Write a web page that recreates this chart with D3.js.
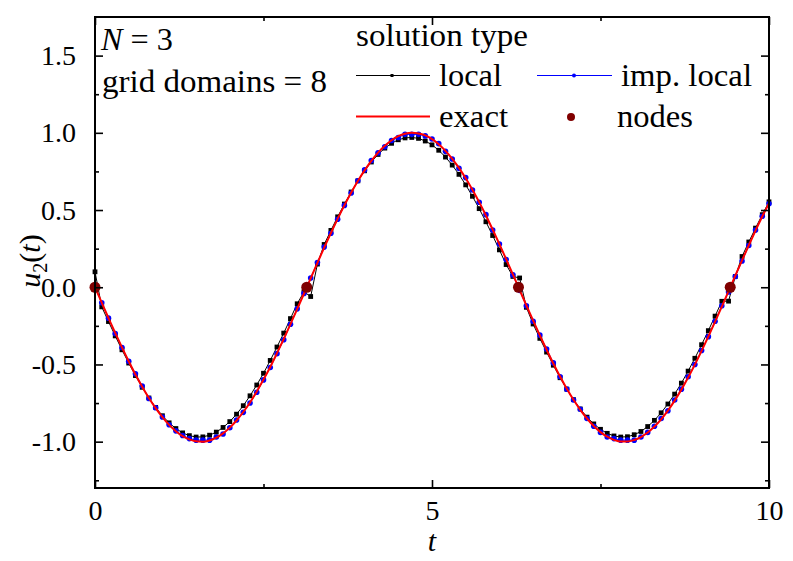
<!DOCTYPE html>
<html>
<head>
<meta charset="utf-8">
<script src="https://cdn.jsdelivr.net/npm/d3@7"></script>
<style>
  @font-face { font-family: "ChartSerif"; font-style: normal; src: local("Liberation Serif"), local("LiberationSerif"), local("LiberationSerif-Regular"); }
  @font-face { font-family: "ChartSerif"; font-style: italic; src: local("Liberation Serif Italic"), local("LiberationSerif-Italic"); }
  html, body { margin: 0; padding: 0; background: #fff; }
</style>
</head>
<body>
<svg id="chart" width="793" height="561"></svg>
<script>
// time grid
const tValues = [
  0.0, 0.1, 0.2, 0.3, 0.4, 0.5, 0.6, 0.7, 0.8, 0.9,
  1.0, 1.1, 1.2, 1.3, 1.4, 1.5, 1.6, 1.7, 1.8, 1.9,
  2.0, 2.1, 2.2, 2.3, 2.4, 2.5, 2.6, 2.7, 2.8, 2.9,
  3.0, 3.1, 3.2, 3.3, 3.4, 3.5, 3.6, 3.7, 3.8, 3.9,
  4.0, 4.1, 4.2, 4.3, 4.4, 4.5, 4.6, 4.7, 4.8, 4.9,
  5.0, 5.1, 5.2, 5.3, 5.4, 5.5, 5.6, 5.7, 5.8, 5.9,
  6.0, 6.1, 6.2, 6.3, 6.4, 6.5, 6.6, 6.7, 6.8, 6.9,
  7.0, 7.1, 7.2, 7.3, 7.4, 7.5, 7.6, 7.7, 7.8, 7.9,
  8.0, 8.1, 8.2, 8.3, 8.4, 8.5, 8.6, 8.7, 8.8, 8.9,
  9.0, 9.1, 9.2, 9.3, 9.4, 9.5, 9.6, 9.7, 9.8, 9.9,
  10.0
];

// "local" solution
const localU = [
  0.100, -0.127, -0.222, -0.315, -0.405, -0.491, -0.572, -0.648, -0.717, -0.778,
  -0.832, -0.878, -0.915, -0.943, -0.961, -0.970, -0.969, -0.958, -0.938, -0.908,
  -0.870, -0.822, -0.767, -0.703, -0.633, -0.557, -0.474, -0.387, -0.297, -0.203,
  -0.107, -0.030, -0.060, 0.150, 0.277, 0.368, 0.456, 0.539, 0.617, 0.689,
  0.754, 0.811, 0.860, 0.901, 0.932, 0.955, 0.967, 0.970, 0.964, 0.947,
  0.922, 0.887, 0.843, 0.791, 0.731, 0.663, 0.589, 0.509, 0.424, 0.335,
  0.242, 0.147, 0.070, 0.060, -0.130, -0.238, -0.331, -0.420, -0.505, -0.586,
  -0.660, -0.728, -0.788, -0.841, -0.885, -0.920, -0.946, -0.963, -0.970, -0.968,
  -0.955, -0.934, -0.902, -0.862, -0.813, -0.756, -0.692, -0.621, -0.543, -0.460,
  -0.372, -0.281, -0.187, -0.091, -0.090, 0.070, 0.199, 0.293, 0.383, 0.470,
  0.553
];

// "imp. local" solution
const impLocalU = [
  0, -0.10, -0.20, -0.30, -0.39, -0.48, -0.56, -0.64, -0.72, -0.78,
  -0.84, -0.89, -0.93, -0.96, -0.98, -0.99, -0.99, -0.99, -0.97, -0.95,
  -0.91, -0.86, -0.81, -0.75, -0.68, -0.60, -0.52, -0.43, -0.34, -0.24,
  -0.14, -0.04, 0.06, 0.16, 0.26, 0.35, 0.44, 0.53, 0.61, 0.69,
  0.76, 0.82, 0.87, 0.91, 0.95, 0.97, 0.99, 0.99, 0.99, 0.98,
  0.96, 0.93, 0.88, 0.83, 0.77, 0.71, 0.63, 0.55, 0.47, 0.37,
  0.28, 0.18, 0.08, -0.02, -0.12, -0.22, -0.31, -0.40, -0.49, -0.58,
  -0.66, -0.73, -0.79, -0.85, -0.90, -0.94, -0.97, -0.98, -0.99, -0.99,
  -0.99, -0.97, -0.94, -0.90, -0.85, -0.80, -0.73, -0.66, -0.58, -0.50,
  -0.41, -0.32, -0.22, -0.12, -0.03, 0.07, 0.17, 0.27, 0.37, 0.46,
  0.54
];

// exact solution
const exactU = [
  0, -0.100, -0.199, -0.296, -0.389, -0.479, -0.565, -0.644, -0.717, -0.783,
  -0.841, -0.891, -0.932, -0.964, -0.985, -0.997, -1.000, -0.992, -0.974, -0.946,
  -0.909, -0.863, -0.808, -0.746, -0.675, -0.598, -0.516, -0.427, -0.335, -0.239,
  -0.141, -0.042, 0.058, 0.158, 0.256, 0.351, 0.443, 0.530, 0.612, 0.688,
  0.757, 0.818, 0.872, 0.916, 0.952, 0.978, 0.994, 1.000, 0.996, 0.983,
  0.959, 0.926, 0.883, 0.832, 0.773, 0.706, 0.631, 0.551, 0.465, 0.374,
  0.279, 0.182, 0.083, -0.017, -0.117, -0.215, -0.312, -0.405, -0.494, -0.578,
  -0.657, -0.729, -0.794, -0.850, -0.899, -0.938, -0.968, -0.988, -0.999, -0.999,
  -0.989, -0.970, -0.941, -0.902, -0.855, -0.799, -0.734, -0.663, -0.585, -0.501,
  -0.412, -0.319, -0.223, -0.125, -0.025, 0.075, 0.174, 0.272, 0.367, 0.458,
  0.544
];

// grid nodes
const nodeT = [0, 3.1416, 6.2832, 9.4248];
const nodeU = [0, 0, 0, 0];

const xTickLabels = [0, 5, 10];
const yTickLabels = [-1.0, -0.5, 0.0, 0.5, 1.0, 1.5];

const serif = "'Liberation Serif'";
const svg = d3.select("#chart");
const margin = { top: 17, right: 24, bottom: 73, left: 95 };
const width = 793, height = 561;

const x = d3.scaleLinear().domain([0, 10]).range([margin.left, width - margin.right]);
const y = d3.scaleLinear().domain([-1.3, 1.75]).range([height - margin.bottom, margin.top]);

const toPts = (ts, us) => ts.map((t, i) => ({ t, u: us[i] }));
const localPts = toPts(tValues, localU);
const impPts = toPts(tValues, impLocalU);
const exactPts = toPts(tValues, exactU);
const nodePts = toPts(nodeT, nodeU);

const line = d3.line().x(d => x(d.t)).y(d => y(d.u));

const plot = svg.append("g");

// --- local (black squares) ---
plot.append("path")
  .datum(localPts)
  .attr("d", line)
  .attr("fill", "none")
  .attr("stroke", "#000")
  .attr("stroke-width", 1);
plot.selectAll("rect.local")
  .data(localPts)
  .enter().append("rect")
  .attr("class", "local")
  .attr("x", d => x(d.t) - 2.4)
  .attr("y", d => y(d.u) - 2.4)
  .attr("width", 4.8)
  .attr("height", 4.8)
  .attr("fill", "#000");

// --- imp. local (blue dots) ---
plot.append("path")
  .datum(impPts)
  .attr("d", line)
  .attr("fill", "none")
  .attr("stroke", "#0000ff")
  .attr("stroke-width", 1);
plot.selectAll("circle.imp")
  .data(impPts)
  .enter().append("circle")
  .attr("class", "imp")
  .attr("cx", d => x(d.t))
  .attr("cy", d => y(d.u))
  .attr("r", 2.8)
  .attr("fill", "#0000ff");

// --- exact (red line) ---
plot.append("path")
  .datum(exactPts)
  .attr("d", d3.line().x(d => x(d.t)).y(d => y(d.u)).curve(d3.curveMonotoneX))
  .attr("fill", "none")
  .attr("stroke", "#ff0000")
  .attr("stroke-width", 2);

// --- nodes ---
plot.selectAll("circle.node")
  .data(nodePts)
  .enter().append("circle")
  .attr("class", "node")
  .attr("cx", d => x(d.t))
  .attr("cy", d => y(d.u))
  .attr("r", 5.5)
  .attr("fill", "#800000");

// --- axes (ticks inward, mirrored) ---
const fontSize = "28px";
const axisStyle = g => {
  g.attr("font-family", null).attr("font-size", null);
  g.select(".domain").remove();
  g.selectAll("line").attr("stroke", "#000").attr("stroke-width", 1.6);
  g.selectAll("text").attr("fill", "#000")
    .style("font-family", serif).style("font-size", fontSize);
};

const xMajor = xTickLabels;
const xMinor = [2.5, 7.5];
const yMajor = yTickLabels;
const yMinor = [-1.25, -0.75, -0.25, 0.25, 0.75, 1.25];

// bottom
svg.append("g")
  .attr("transform", `translate(0,${y(-1.3)})`)
  .call(d3.axisBottom(x).tickValues(xMajor).tickSizeInner(-8).tickPadding(12).tickFormat(d3.format("d")))
  .call(axisStyle);
svg.append("g")
  .attr("transform", `translate(0,${y(-1.3)})`)
  .call(d3.axisBottom(x).tickValues(xMinor).tickSizeInner(-4).tickFormat(""))
  .call(axisStyle);
// top
svg.append("g")
  .attr("transform", `translate(0,${y(1.75)})`)
  .call(d3.axisTop(x).tickValues(xMajor).tickSizeInner(-8).tickFormat(""))
  .call(axisStyle);
svg.append("g")
  .attr("transform", `translate(0,${y(1.75)})`)
  .call(d3.axisTop(x).tickValues(xMinor).tickSizeInner(-4).tickFormat(""))
  .call(axisStyle);
// left
svg.append("g")
  .attr("transform", `translate(${x(0)},0)`)
  .call(d3.axisLeft(y).tickValues(yMajor).tickSizeInner(-8).tickPadding(19).tickFormat(d => d3.format(".1f")(d).replace("\u2212", "-")))
  .call(axisStyle);
svg.append("g")
  .attr("transform", `translate(${x(0)},0)`)
  .call(d3.axisLeft(y).tickValues(yMinor).tickSizeInner(-4).tickFormat(""))
  .call(axisStyle);
// right
svg.append("g")
  .attr("transform", `translate(${x(10)},0)`)
  .call(d3.axisRight(y).tickValues(yMajor).tickSizeInner(-8).tickFormat(""))
  .call(axisStyle);
svg.append("g")
  .attr("transform", `translate(${x(10)},0)`)
  .call(d3.axisRight(y).tickValues(yMinor).tickSizeInner(-4).tickFormat(""))
  .call(axisStyle);

// frame
svg.append("rect")
  .attr("x", x(0)).attr("y", y(1.75))
  .attr("width", x(10) - x(0)).attr("height", y(-1.3) - y(1.75))
  .attr("fill", "none")
  .attr("stroke", "#000")
  .attr("stroke-width", 2);

// --- axis titles ---
svg.append("text")
  .attr("x", x(5))
  .attr("y", 551)
  .attr("text-anchor", "middle")
  .style("font-family", serif)
  .style("font-size", "30px")
  .style("font-style", "italic")
  .text("t");

const yTitle = svg.append("text")
  .attr("transform", `translate(40,${y(0.17)}) rotate(-90)`)
  .attr("text-anchor", "middle")
  .style("font-family", serif)
  .style("font-size", "30px");
yTitle.append("tspan").style("font-style", "italic").text("u");
yTitle.append("tspan").attr("dy", 7).style("font-size", "20px").text("2");
yTitle.append("tspan").attr("dy", -7).text("(");
yTitle.append("tspan").style("font-style", "italic").text("t");
yTitle.append("tspan").text(")");

// --- annotations ---
const lblSize = "31px";
const addText = (xp, yp, s, len) => svg.append("text")
  .attr("x", xp).attr("y", yp)
  .attr("textLength", len).attr("lengthAdjust", "spacingAndGlyphs")
  .style("font-family", serif).style("font-size", lblSize)
  .text(s);

const nText = svg.append("text").attr("x", 101).attr("y", 50)
  .attr("textLength", 72).attr("lengthAdjust", "spacingAndGlyphs")
  .style("font-family", serif).style("font-size", lblSize);
nText.append("tspan").style("font-style", "italic").text("N");
nText.append("tspan").text(" = 3");
addText(102, 92, "grid domains = 8", 225);

// --- legend ---
addText(356, 46, "solution type", 172);

// local
svg.append("line").attr("x1", 356).attr("x2", 430).attr("y1", 75.5).attr("y2", 75.5)
  .attr("stroke", "#000").attr("stroke-width", 1);
svg.append("rect").attr("x", 390.5).attr("y", 74).attr("width", 3).attr("height", 3).attr("fill", "#000");
addText(439, 86, "local", 63);

// imp. local
svg.append("line").attr("x1", 537).attr("x2", 612).attr("y1", 75.5).attr("y2", 75.5)
  .attr("stroke", "#0000ff").attr("stroke-width", 1);
svg.append("circle").attr("cx", 574).attr("cy", 75.5).attr("r", 2).attr("fill", "#0000ff");
addText(621, 86, "imp. local", 131);

// exact
svg.append("line").attr("x1", 356).attr("x2", 430).attr("y1", 116.5).attr("y2", 116.5)
  .attr("stroke", "#ff0000").attr("stroke-width", 2);
addText(439, 127, "exact", 69);

// nodes
svg.append("circle").attr("cx", 571).attr("cy", 117).attr("r", 4).attr("fill", "#800000");
addText(617, 127, "nodes", 76);
</script>
</body>
</html>
